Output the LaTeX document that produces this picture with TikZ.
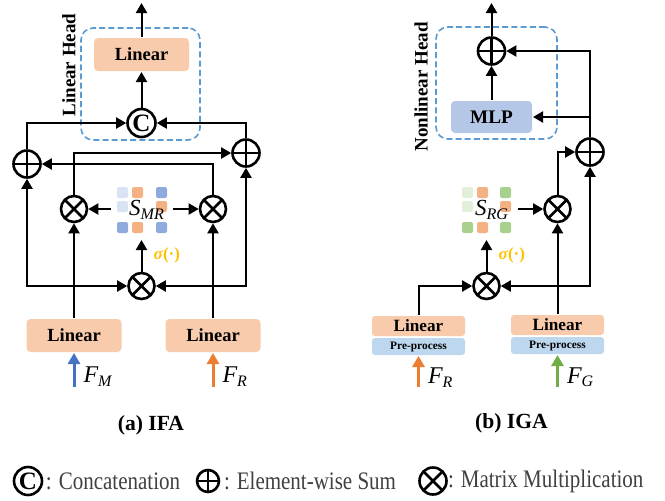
\documentclass[tikz,border=0pt]{standalone}
\usepackage{fontspec}
\setmainfont{Liberation Serif}
\usetikzlibrary{arrows.meta,positioning}
\definecolor{linfill}{HTML}{F8CBAD}
\definecolor{mlpfill}{HTML}{B4C7E7}
\definecolor{prefill}{HTML}{BDD7EE}
\definecolor{headline}{HTML}{5B9BD5}
\definecolor{sqlb}{HTML}{DAE3F3}
\definecolor{sqb}{HTML}{8FAADC}
\definecolor{sqo}{HTML}{F4B183}
\definecolor{sqlg}{HTML}{E2F0D9}
\definecolor{sqg}{HTML}{A9D18E}
\definecolor{fmcol}{HTML}{4472C4}
\definecolor{frcol}{HTML}{ED7D31}
\definecolor{fgcol}{HTML}{70AD47}
\definecolor{sigcol}{HTML}{FFC000}
\definecolor{legcol}{HTML}{404040}
\begin{document}
\begin{tikzpicture}[x=0.5pt, y=-0.5pt, line width=1pt,
  >={Triangle[length=5pt,width=5.5pt]},
  linbox/.style={fill=linfill, rounded corners=2pt, minimum width=47.5pt, minimum height=16.5pt, inner sep=0pt, font=\fontsize{9.25}{11}\selectfont\bfseries},
  mlpbox/.style={fill=mlpfill, rounded corners=2pt, minimum width=40.5pt, minimum height=16pt, inner sep=0pt, font=\fontsize{9.6}{11}\selectfont\bfseries},
  linhalf/.style={fill=linfill, rounded corners=1.5pt, minimum width=46.5pt, minimum height=10pt, inner sep=0pt, font=\fontsize{8.6}{10}\selectfont\bfseries},
  prehalf/.style={fill=prefill, rounded corners=1.5pt, minimum width=46.5pt, minimum height=8.5pt, inner sep=0pt, font=\fontsize{5.7}{7}\selectfont\bfseries},
  headbox/.style={draw=headline, dash pattern=on 3pt off 1.6pt, line width=0.8pt, rounded corners=6pt, minimum width=59.5pt, minimum height=56pt},
  headtext/.style={rotate=90, inner sep=0pt, font=\fontsize{9.5}{12}\selectfont\bfseries},
  sumop/.style={circle, draw, line width=1.3pt, minimum size=13.5pt, inner sep=0pt,
    path picture={\draw[line width=1.3pt] (path picture bounding box.north) -- (path picture bounding box.south) (path picture bounding box.west) -- (path picture bounding box.east);}},
  mulop/.style={circle, draw, line width=1.3pt, minimum size=13pt, inner sep=0pt,
    path picture={\draw[line width=1.3pt] (path picture bounding box.north west) -- (path picture bounding box.south east) (path picture bounding box.north east) -- (path picture bounding box.south west);}},
  catop/.style={circle, draw, line width=1.3pt, minimum size=14pt, inner sep=0pt, font=\fontsize{12.5}{12.5}\selectfont\bfseries},
  matbox/.style={minimum width=30pt, minimum height=30pt, inner sep=0pt},
  mattext/.style={inner sep=0pt, font=\fontsize{11.5}{12}\selectfont},
  sq/.style={rounded corners=1pt},
  sig/.style={text=sigcol, inner sep=0pt, font=\fontsize{8.5}{10}\selectfont\bfseries},
  flab/.style={inner sep=0pt, font=\fontsize{12}{14}\selectfont},
  inarrow/.style={->, line width=1.5pt, >={Triangle[length=5.5pt,width=6pt]}},
  captext/.style={font=\fontsize{10.8}{13}\selectfont\bfseries},
  keytext/.style={anchor=west, inner sep=0pt, text=legcol, font=\fontsize{10.5}{13}\selectfont}]
\useasboundingbox (0,0) rectangle (665,500);

\node[headbox] (Head_a) at (140.5,84) {};
\node[headtext] (HeadTxt_a) at (69,65) {Linear Head};
\coordinate (Out_a) at (141.5,3);
\node[linbox] (Lin_a_h) at (141.5,54.5) {Linear};
\node[catop] (Cat_a) at (141.5,123) {C};
\node[sumop] (AddL_a) at (27,164) {};
\node[sumop] (AddR_a) at (246,153) {};
\node[mulop] (MulL_a) at (74,209) {};
\node[mulop] (MulR_a) at (213,209) {};
\node[mulop] (MulB_a) at (141.5,286) {};
\node[linbox] (LinL_a) at (74,335.5) {Linear};
\node[linbox] (LinR_a) at (213,335.5) {Linear};
\coordinate (In_a_0) at (74,387);
\coordinate (In_a_1) at (213,387);
\fill[sqlb, sq] (117,187) rectangle +(11,11);
\fill[sqo, sq] (132,187) rectangle +(11,11);
\fill[sqb, sq] (156,187) rectangle +(11,11);
\fill[sqlb, sq] (117,201) rectangle +(11,11);
\fill[sqo, sq] (156,201) rectangle +(11,11);
\fill[sqb, sq] (117,222) rectangle +(11,11);
\fill[sqo, sq] (132,222) rectangle +(11,11);
\fill[sqb, sq] (156,222) rectangle +(11,11);
\node[matbox] (S_a) at (141.5,209) {};
\node[mattext] (STxt_a) at (147,210) {$\mathit{S}_{\mathit{MR}}$};
\draw[->] (Lin_a_h) -- (Out_a);
\draw[->] (Cat_a) -- (Lin_a_h);
\draw[->] (AddL_a) |- (Cat_a);
\draw[->] (AddR_a) |- (Cat_a);
\draw[->] (MulL_a) |- (AddR_a);
\draw[->] (MulR_a) |- (AddL_a);
\draw[->] (S_a) -- (MulL_a);
\draw[->] (S_a) -- (MulR_a);
\draw[->] (MulB_a) -- (S_a) node[midway, right=5.5pt, sig] {\textit{σ}(·)};
\draw[->] (LinL_a) -- (MulL_a);
\draw[->] (LinR_a) -- (MulR_a);
\draw[<->] (AddL_a) |- (MulB_a);
\draw[<->] (AddR_a) |- (MulB_a);
\draw[inarrow, fmcol] (In_a_0) -- (LinL_a) node[pos=0.3, right=4pt, flab, text=black] {$\mathit{F}_{\mathit{M}}$};
\draw[inarrow, frcol] (In_a_1) -- (LinR_a) node[pos=0.3, right=4pt, flab, text=black] {$\mathit{F}_{\mathit{R}}$};
\node[captext] (Cap_a) at (151,425) {(a) IFA};

\node[headbox, minimum width=60.5pt] (Head_b) at (496.5,83) {};
\node[headtext] (HeadTxt_b) at (421,87) {Nonlinear Head};
\coordinate (Out_b) at (491.5,3);
\node[sumop] (Add_b_h) at (491.5,51) {};
\node[mlpbox] (MLP_b) at (491.5,117) {MLP};
\node[sumop] (AddR_b) at (590,152) {};
\node[mulop] (MulR_b) at (557.5,209) {};
\node[mulop] (MulB_b) at (486.5,286) {};
\node[linhalf] (LinL_b) at (418.5,326) {Linear};
\node[prehalf, below=0pt of LinL_b] (PreL_b) {Pre-process};
\node[linhalf] (LinR_b) at (557.5,325) {Linear};
\node[prehalf, below=0pt of LinR_b] (PreR_b) {Pre-process};
\coordinate (In_b_0) at (418.5,387);
\coordinate (In_b_1) at (557.5,387);
\fill[sqlg, sq] (462,187) rectangle +(11,11);
\fill[sqo, sq] (477,187) rectangle +(11,11);
\fill[sqg, sq] (500,187) rectangle +(11,11);
\fill[sqlg, sq] (462,201) rectangle +(11,11);
\fill[sqo, sq] (500,201) rectangle +(11,11);
\fill[sqg, sq] (462,222) rectangle +(11,11);
\fill[sqo, sq] (477,222) rectangle +(11,11);
\fill[sqg, sq] (500,222) rectangle +(11,11);
\node[matbox] (S_b) at (486.5,209) {};
\node[mattext] (STxt_b) at (492,210) {$\mathit{S}_{\mathit{RG}}$};
\draw[->] (Add_b_h) -- (Out_b);
\draw[->] (MLP_b) -- (Add_b_h);
\draw[->] (AddR_b) |- (Add_b_h);
\draw[->] (AddR_b |- MLP_b) -- (MLP_b);
\draw[->] (MulR_b) |- (AddR_b);
\draw[->] (S_b) -- (MulR_b);
\draw[->] (MulB_b) -- (S_b) node[midway, right=5.5pt, sig] {\textit{σ}(·)};
\draw[->] (LinL_b) |- (MulB_b);
\draw[->] (LinR_b) -- (MulR_b);
\draw[<->] (AddR_b) |- (MulB_b);
\draw[inarrow, frcol] (In_b_0) -- (PreL_b) node[pos=0.3, right=4pt, flab, text=black] {$\mathit{F}_{\mathit{R}}$};
\draw[inarrow, fgcol] (In_b_1) -- (PreR_b) node[pos=0.3, right=4pt, flab, text=black] {$\mathit{F}_{\mathit{G}}$};
\node[captext] (Cap_b) at (511.5,423) {(b) IGA};

\node[catop] (Key_0) at (28,481) {C};
\node[keytext] (KeyTxt_0) at (45,481) {\scalebox{1}[1.2]{: Concatenation}};
\node[sumop, minimum size=11pt] (Key_1) at (208,481) {};
\node[keytext] (KeyTxt_1) at (223,481) {\scalebox{1}[1.2]{: Element-wise Sum}};
\node[mulop, minimum size=13.5pt] (Key_2) at (433,481) {};
\node[keytext] (KeyTxt_2) at (447,481) {\scalebox{1}[1.2]{: Matrix Multiplication}};
\end{tikzpicture}
\end{document}
